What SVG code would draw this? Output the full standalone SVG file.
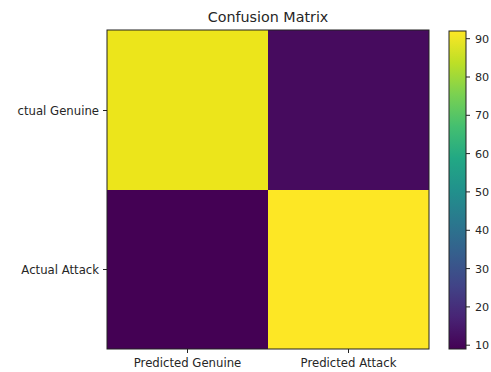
<svg xmlns="http://www.w3.org/2000/svg" width="491" height="372" viewBox="0 0 491 372">
  <defs>
    <linearGradient id="viridis" x1="0" y1="1" x2="0" y2="0">
      <stop offset="0" stop-color="#440154"/>
      <stop offset="0.1" stop-color="#482475"/>
      <stop offset="0.2" stop-color="#414487"/>
      <stop offset="0.3" stop-color="#355f8d"/>
      <stop offset="0.4" stop-color="#2a788e"/>
      <stop offset="0.5" stop-color="#21918c"/>
      <stop offset="0.6" stop-color="#22a884"/>
      <stop offset="0.7" stop-color="#44bf70"/>
      <stop offset="0.8" stop-color="#7ad151"/>
      <stop offset="0.9" stop-color="#bddf26"/>
      <stop offset="1" stop-color="#fde725"/>
    </linearGradient>
    <style>
      text { font-family: "DejaVu Sans", sans-serif; fill: #262626; }
      .title { font-size: 14.3px; text-anchor: middle; }
      .tick { font-size: 11.7px; }
      .cbl { font-size: 11.2px; }
      .frame { fill: none; stroke: #222; stroke-width: 1; }
      .tk { stroke: #222; stroke-width: 1; }
    </style>
  </defs>
  <rect width="491" height="372" fill="#ffffff"/>
  <text class="title" x="268" y="22">Confusion Matrix</text>

  <g id="matrix">
    <rect id="cell-tl" x="107" y="30" width="161" height="160" fill="#ece51b"/>
    <rect id="cell-tr" x="268" y="30" width="161" height="160" fill="#460b5e"/>
    <rect id="cell-bl" x="107" y="190" width="161" height="159" fill="#440154"/>
    <rect id="cell-br" x="268" y="190" width="161" height="159" fill="#fde725"/>
    <rect class="frame" x="107" y="30" width="322" height="319"/>
  </g>

  <g id="axis-ticks">
    <line class="tk" x1="103" y1="110.5" x2="107" y2="110.5"/>
    <line class="tk" x1="103" y1="269.5" x2="107" y2="269.5"/>
    <line class="tk" x1="187.5" y1="349" x2="187.5" y2="353"/>
    <line class="tk" x1="348.5" y1="349" x2="348.5" y2="353"/>
    <text class="tick" x="99" y="115" text-anchor="end">ctual Genuine</text>
    <text class="tick" x="99" y="274" text-anchor="end">Actual Attack</text>
    <text class="tick" x="187.5" y="367" text-anchor="middle">Predicted Genuine</text>
    <text class="tick" x="348.5" y="367" text-anchor="middle">Predicted Attack</text>
  </g>

  <g id="colorbar">
    <rect x="449" y="31" width="17" height="318" fill="url(#viridis)"/>
    <rect class="frame" x="449" y="31" width="17" height="318"/>
    <g class="cb-ticks">
      <line class="tk" x1="466" y1="38.7" x2="470" y2="38.7"/>
      <line class="tk" x1="466" y1="77" x2="470" y2="77"/>
      <line class="tk" x1="466" y1="115.3" x2="470" y2="115.3"/>
      <line class="tk" x1="466" y1="153.6" x2="470" y2="153.6"/>
      <line class="tk" x1="466" y1="191.9" x2="470" y2="191.9"/>
      <line class="tk" x1="466" y1="230.3" x2="470" y2="230.3"/>
      <line class="tk" x1="466" y1="268.6" x2="470" y2="268.6"/>
      <line class="tk" x1="466" y1="306.9" x2="470" y2="306.9"/>
      <line class="tk" x1="466" y1="345.2" x2="470" y2="345.2"/>
    </g>
    <text class="cbl" x="475" y="42.8">90</text>
    <text class="cbl" x="475" y="81.1">80</text>
    <text class="cbl" x="475" y="119.4">70</text>
    <text class="cbl" x="475" y="157.7">60</text>
    <text class="cbl" x="475" y="196">50</text>
    <text class="cbl" x="475" y="234.4">40</text>
    <text class="cbl" x="475" y="272.7">30</text>
    <text class="cbl" x="475" y="311">20</text>
    <text class="cbl" x="475" y="349.3">10</text>
  </g>
</svg>
